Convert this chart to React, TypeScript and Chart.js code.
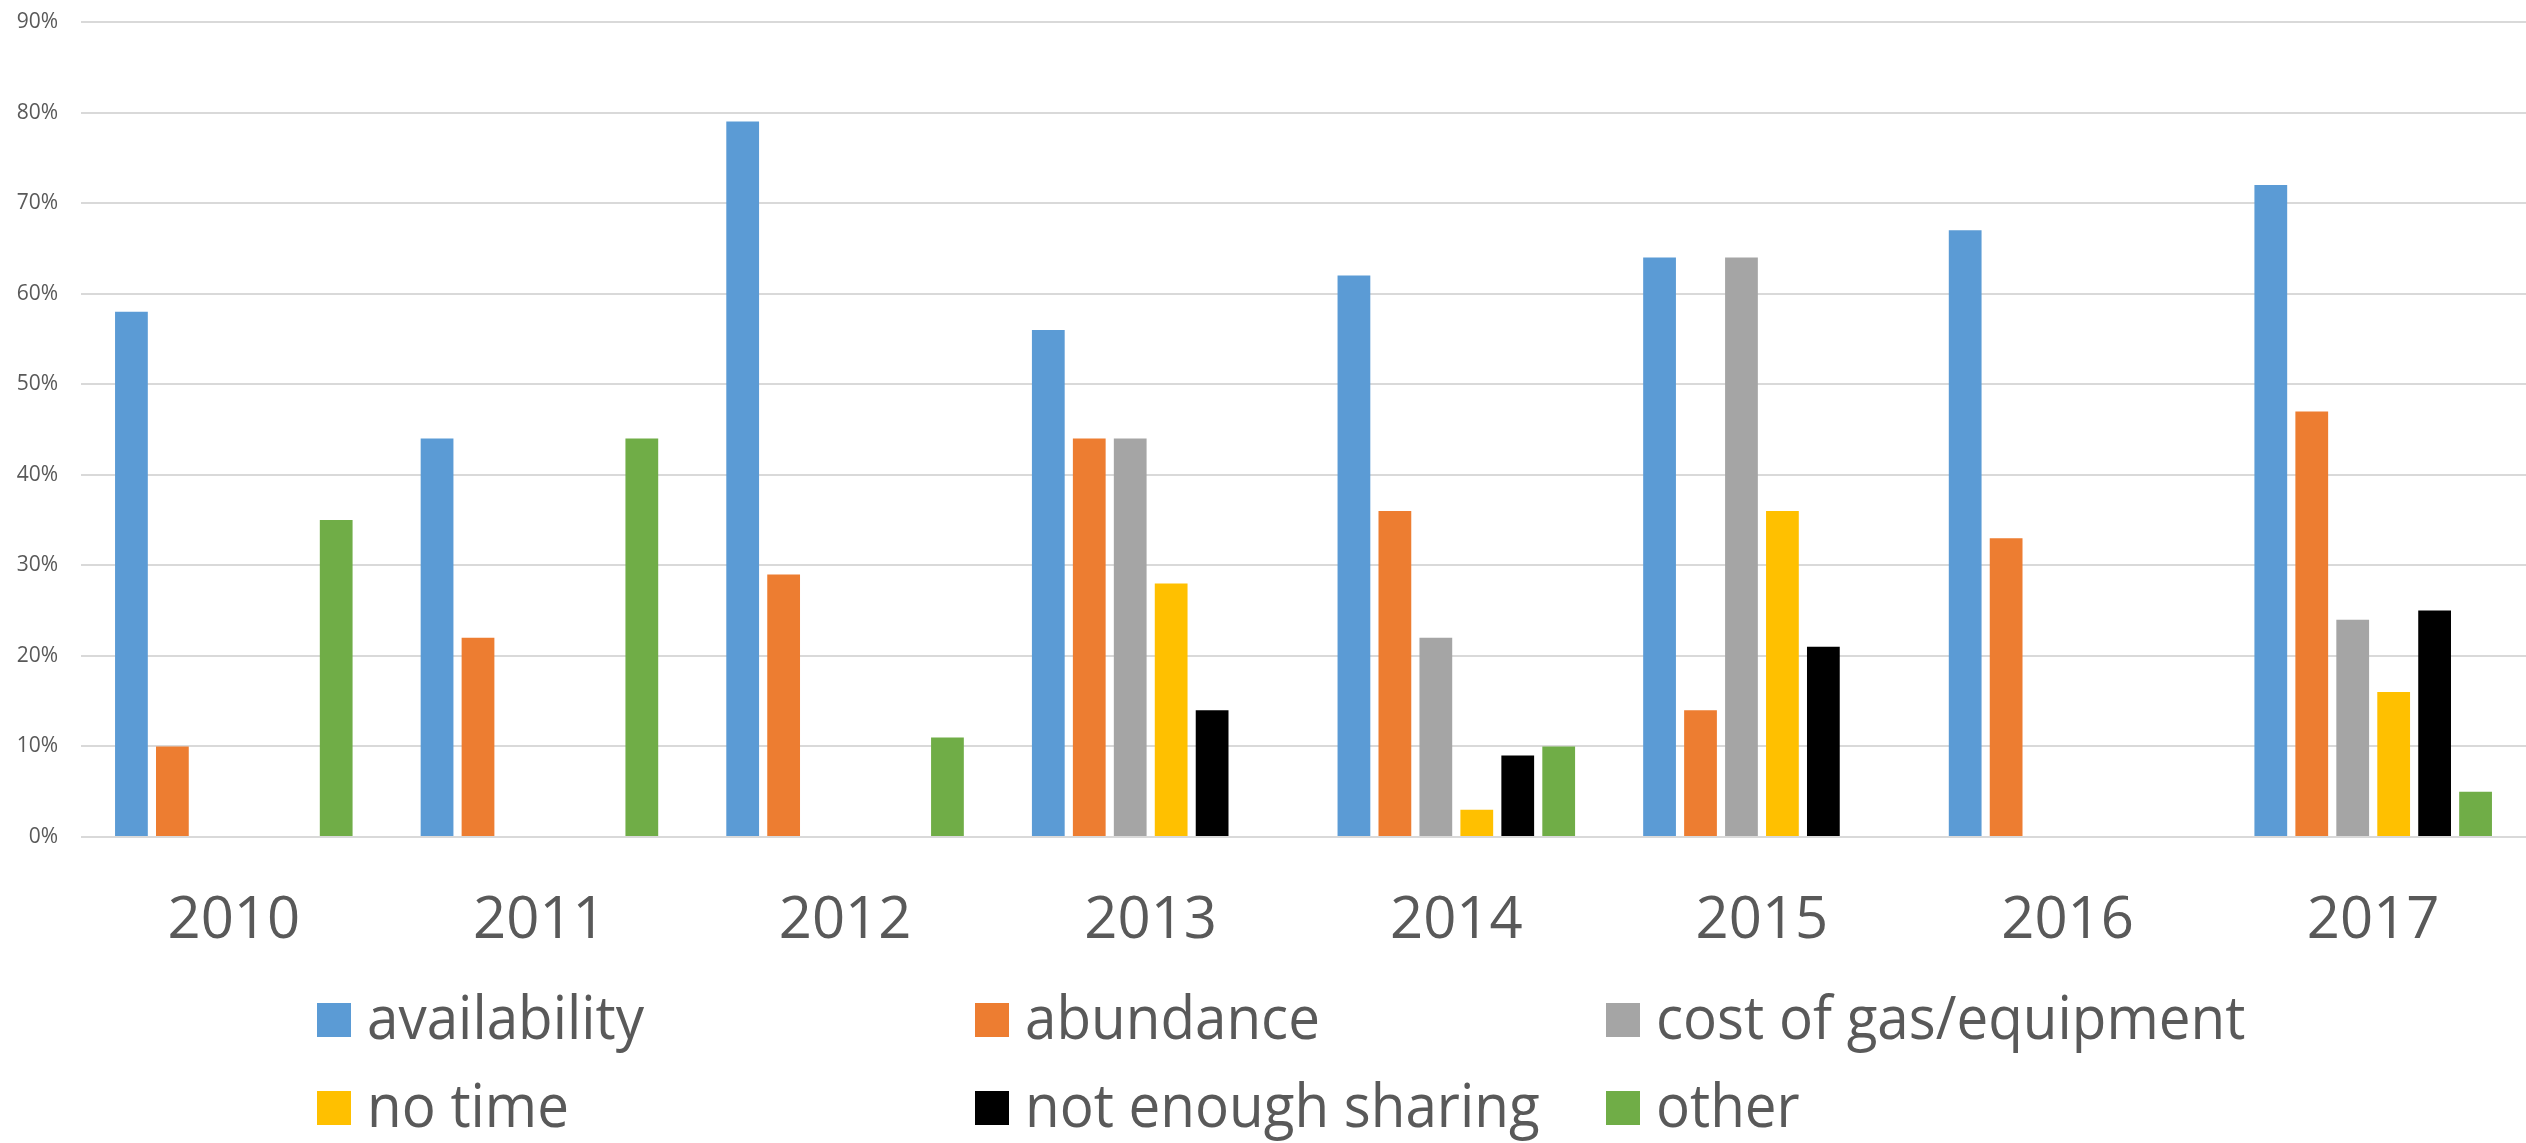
import React, { useEffect, useRef } from "react";
import { Chart, registerables } from "chart.js";

Chart.register(...registerables);

const years = ["2010", "2011", "2012", "2013", "2014", "2015", "2016", "2017"];
const availability = [58, 44, 79, 56, 62, 64, 67, 72];
const abundance = [10, 22, 29, 44, 36, 14, 33, 47];
const costOfGas = [0, 0, 0, 44, 22, 64, 0, 24];
const noTime = [0, 0, 0, 28, 3, 36, 0, 16];
const notEnoughSharing = [0, 0, 0, 14, 9, 21, 0, 25];
const other = [35, 44, 11, 0, 10, 0, 0, 5];
const yTicks = [0, 10, 20, 30, 40, 50, 60, 70, 80, 90];

const seriesNames = ["availability", "abundance", "cost of gas/equipment", "no time", "not enough sharing", "other"];
const seriesColors = ["#5B9BD5", "#ED7D31", "#A5A5A5", "#FFC000", "#000000", "#70AD47"];

const legendPlugin = {
  id: "gridLegend",
  afterDraw(chart: any) {
    const ctx = chart.ctx;
    const colX = [317, 975, 1606];
    const rowY = [1020, 1108];
    const box = 34;
    ctx.save();
    ctx.font = '60px "Liberation Sans Narrow", "Open Sans", sans-serif';
    ctx.textBaseline = "middle";
    ctx.textAlign = "left";
    const ref = ctx.measureText("availability").width;
    const sx = 277 / ref;
    seriesNames.forEach((name, i) => {
      const c = i % 3;
      const r = Math.floor(i / 3);
      const x = colX[c];
      const y = rowY[r];
      ctx.fillStyle = seriesColors[i];
      ctx.fillRect(x, y - box / 2, box, box);
      ctx.fillStyle = "#595959";
      ctx.save();
      ctx.translate(x + box + 16, y + 2);
      ctx.scale(sx, 1);
      ctx.fillText(name, 0, 0);
      ctx.restore();
    });
    ctx.restore();
  },
};

export default function App() {
  const ref = useRef<HTMLCanvasElement | null>(null);
  useEffect(() => {
    document.body.style.margin = "0";
    document.body.style.overflow = "hidden";
    const series = [availability, abundance, costOfGas, noTime, notEnoughSharing, other];
    const chart = new Chart(ref.current as HTMLCanvasElement, {
      type: "bar",
      data: {
        labels: years,
        datasets: series.map((d, i) => ({
          label: seriesNames[i],
          data: d,
          backgroundColor: seriesColors[i],
          borderWidth: 0,
          categoryPercentage: 0.804,
          barPercentage: 0.8,
        })),
      },
      options: {
        animation: false,
        responsive: false,
        maintainAspectRatio: false,
        layout: { padding: { top: 22, right: -5, left: 0, bottom: 0 } },
        plugins: { legend: { display: false }, tooltip: { enabled: false } },
        scales: {
          x: {
            grid: { display: false, drawTicks: false },
            border: { display: false },
            ticks: {
              color: "#595959",
              font: { family: '"Open Sans", sans-serif', size: 58 },
              padding: 50,
            },
            afterFit(scale: any) {
              scale.height = 306;
              scale.paddingTop = 0;
              scale.paddingBottom = 0;
            },
          },
          y: {
            min: 0,
            max: 90,
            afterBuildTicks(scale: any) {
              scale.ticks = yTicks.map((v) => ({ value: v }));
            },
            grid: { color: "#D9D9D9", lineWidth: 2, drawTicks: false },
            border: { display: false },
            ticks: {
              color: "#595959",
              font: { family: '"Open Sans", sans-serif', size: 21 },
              padding: 23,
              callback: (v: any) => v + "%",
            },
            afterFit(scale: any) {
              scale.width = 81;
              scale.paddingTop = 0;
              scale.paddingBottom = 0;
            },
          },
        },
      },
      plugins: [legendPlugin],
    });
    return () => chart.destroy();
  }, []);
  return (
    <div style={{ width: 2526, height: 1143, overflow: "hidden" }}>
      <canvas ref={ref} width={2526} height={1143} style={{ display: "block" }} />
    </div>
  );
}
